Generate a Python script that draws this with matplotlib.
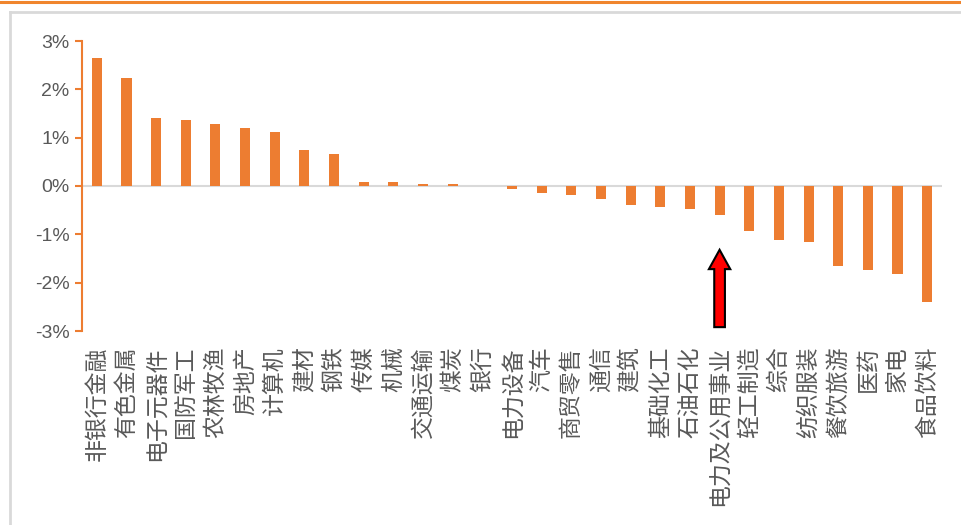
import matplotlib
matplotlib.use("Agg")
import matplotlib.pyplot as plt
from matplotlib.patches import FancyArrow
from matplotlib.lines import Line2D
from matplotlib.ticker import FuncFormatter

industries = ['非银行金融', '有色金属', '电子元器件', '国防军工', '农林牧渔', '房地产', '计算机',
              '建材', '钢铁', '传媒', '机械', '交通运输', '煤炭', '银行', '电力设备', '汽车',
              '商贸零售', '通信', '建筑', '基础化工', '石油石化', '电力及公用事业', '轻工制造',
              '综合', '纺织服装', '餐饮旅游', '医药', '家电', '食品饮料']
returns = [2.65, 2.23, 1.41, 1.37, 1.28, 1.20, 1.12,
           0.74, 0.66, 0.08, 0.08, 0.05, 0.05, 0.0, -0.07, -0.15,
           -0.19, -0.27, -0.40, -0.44, -0.48, -0.61, -0.94,
           -1.11, -1.15, -1.65, -1.73, -1.82, -2.39]
y_ticks = [-3, -2, -1, 0, 1, 2, 3]

orange = '#ed7d31'
grey = '#595959'

fig = plt.figure(figsize=(9.62, 5.25), dpi=100)
ax = fig.add_axes([82/962, 1-331/525, 860/962, 290/525])

x = list(range(len(industries)))
ax.bar(x, returns, width=0.34, color=orange, zorder=3)
ax.axhline(0, color='#d9d9d9', lw=1.5, zorder=2)

ax.set_xlim(-0.5, len(industries)-0.5)
ax.set_ylim(min(y_ticks), max(y_ticks))
ax.set_yticks(y_ticks)
ax.yaxis.set_major_formatter(FuncFormatter(lambda v, p: '%d%%' % v if v >= 0 else '-%d%%' % abs(v)))

for s in ['top', 'right', 'bottom']:
    ax.spines[s].set_visible(False)
ax.spines['left'].set_color(orange)
ax.spines['left'].set_linewidth(1.5)
ax.tick_params(axis='y', colors=orange, length=5, width=1.5, labelcolor=grey, labelsize=14, pad=4)
for t in ax.get_yticklabels():
    t.set_family(['Liberation Sans', 'DejaVu Sans'])

ax.set_xticks(x)
ax.set_xticklabels(industries, rotation=90, fontsize=16.5, color=grey, fontweight='light',
                   family=['Noto Sans CJK SC', 'DejaVu Sans'], va='top', ha='center')
ax.tick_params(axis='x', length=0, pad=11)

# red arrow pointing at 电力及公用事业
arrow = FancyArrow(21, -2.92, 0, 1.6, width=0.36, head_width=0.72, head_length=0.4,
                   length_includes_head=True, facecolor='#ff0000', edgecolor='black',
                   linewidth=1.5, zorder=5)
ax.add_patch(arrow)

# frame lines
fig.add_artist(Line2D([0, 1], [1-1.5/525, 1-1.5/525], color='#f0852d', lw=2.2))
fig.add_artist(Line2D([10/962, 1], [1-12/525, 1-12/525], color='#d9d9d9', lw=2))
fig.add_artist(Line2D([10/962, 10/962], [0, 1-12/525], color='#d9d9d9', lw=2))

fig.savefig('out.png', dpi=100)
